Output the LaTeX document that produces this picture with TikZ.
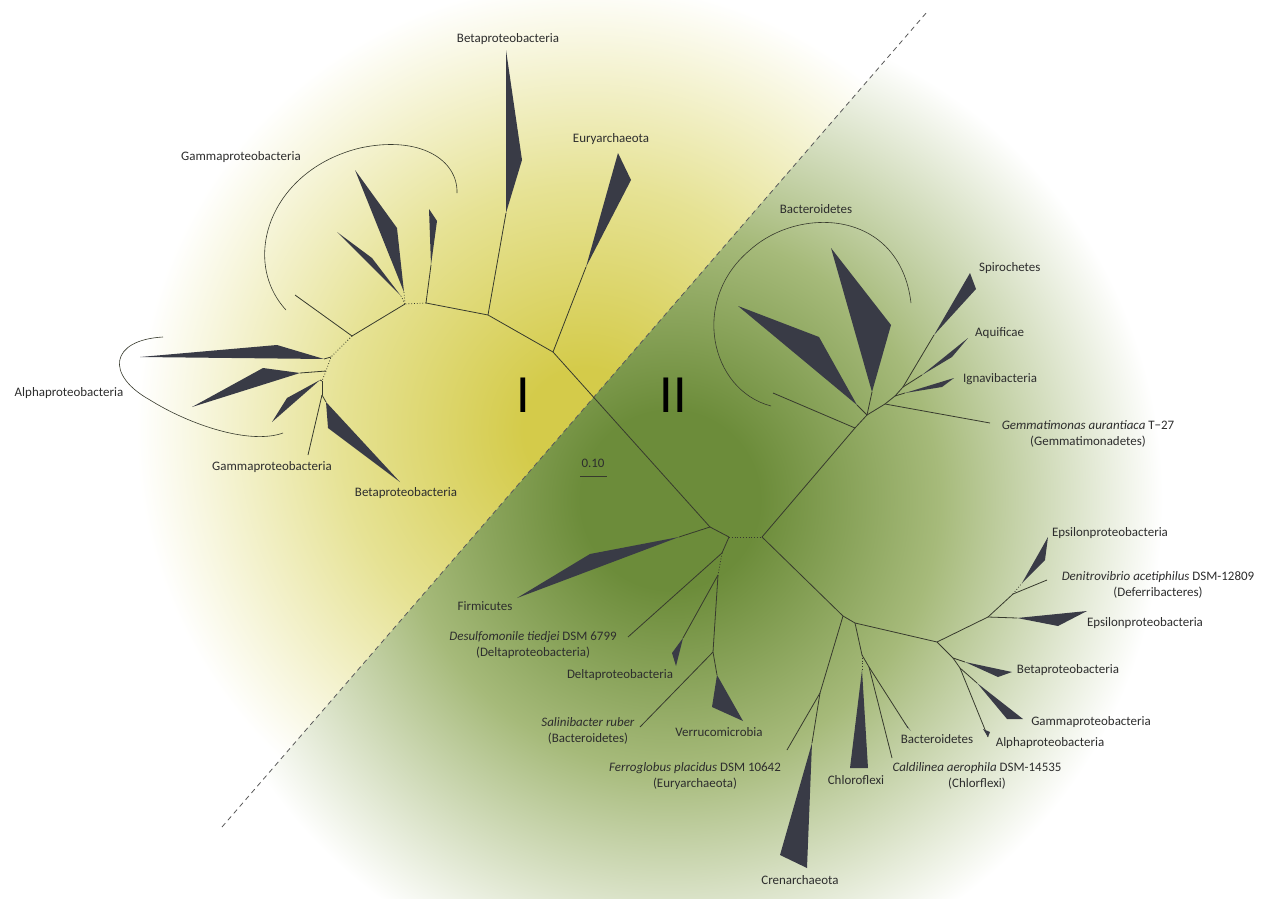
\documentclass[tikz,border=0pt]{standalone}
\usepackage{fontspec}
\setmainfont{Carlito}
\usetikzlibrary{positioning}

\definecolor{cladecol}{RGB}{57,59,70}
\definecolor{branchcol}{RGB}{55,58,45}
\definecolor{labelcol}{RGB}{45,45,45}
\definecolor{yelcore}{RGB}{212,203,74}
\definecolor{yelmid}{RGB}{230,226,148}
\definecolor{grcore}{RGB}{108,140,58}
\definecolor{grmid}{RGB}{166,186,122}

\pgfdeclareradialshading{yelfade}{\pgfpointorigin}{color(0bp)=(yelcore); color(3bp)=(yelcore); color(12bp)=(yelmid); color(22bp)=(white); color(50bp)=(white)}
\pgfdeclareradialshading{grfade}{\pgfpointorigin}{color(0bp)=(grcore); color(4bp)=(grcore); color(12bp)=(grmid); color(22bp)=(white); color(50bp)=(white)}

\begin{document}
\begin{tikzpicture}[x=1bp, y=-1bp,
    branch/.style={draw=branchcol, line width=0.8bp},
    weak/.style={branch, dotted},
    clade/.style={fill=cladecol},
    bracket/.style={draw=branchcol, line width=0.6bp},
    lab/.style={text=labelcol, font=\fontsize{13}{16}\selectfont, inner sep=0pt, align=center},
    roman/.style={text=black, font=\fontsize{54}{54}\selectfont, inner sep=0pt}]

  \useasboundingbox (0,0) rectangle (1268,899);
  \fill[white] (0,0) rectangle (1268,899);

  % Shaded halves on both sides of the divide
  \begin{scope}
    \clip (0,0) -- (937,0) -- (160,899) -- (0,899) -- cycle;
    \shade[shading=yelfade] (585,430) circle (510bp);
  \end{scope}
  \begin{scope}
    \clip (937,0) -- (1268,0) -- (1268,899) -- (160,899) -- cycle;
    \shade[shading=grfade] (670,500) circle (560bp);
  \end{scope}

  % Dashed divide
  \coordinate (dl1) at (222,827);
  \coordinate (dl2) at (927,12);
  \draw[dash pattern=on 5bp off 4bp, draw=black!65, line width=0.8bp] (dl1) -- (dl2);

  \node[roman] (grpI) at (523,395) {I};
  \node[roman] (grpII) at (673,395) {II};

  % Scale bar
  \coordinate (sb1) at (580,476);
  \coordinate (sb2) at (607,476);
  \draw[branch] (sb1) -- (sb2);
  \node[lab] (scale) at (593,463) {0.10};

  % Central inner nodes
  \coordinate (cL) at (729,537);
  \coordinate (cR) at (762,537);
  \coordinate (f1) at (710,527);
  \draw[weak] (cL) -- (cR);
  \draw[branch] (f1) -- (cL);

  % Group I backbone
  \coordinate (a1) at (553,352);
  \coordinate (a2) at (488,315);
  \coordinate (a3) at (426,303);
  \coordinate (a4) at (405,304);
  \coordinate (a5) at (352,336);
  \coordinate (sp1) at (331,357);
  \coordinate (sp2) at (326,371);
  \coordinate (sp3) at (322,381);
  \coordinate (sp4) at (322,395);
  \draw[branch] (f1) -- (a1) -- (a2) -- (a3);
  \draw[weak] (a3) -- (a4);
  \draw[branch] (a4) -- (a5);
  \draw[weak] (a5) -- (sp1) -- (sp2) -- (sp3);
  \draw[branch] (sp3) -- (sp4);

  % Euryarchaeota
  \coordinate (euA) at (586,267);
  \draw[branch] (a1) -- (euA);
  \fill[clade] (euA) -- (631,180) -- (618,153) -- cycle;
  \node[lab] (eury) at (611,139) {Euryarchaeota};

  % Betaproteobacteria (top)
  \coordinate (btA) at (506,213);
  \draw[branch] (a2) -- (btA);
  \fill[clade] (btA) -- (522,160) -- (506,50) -- cycle;
  \node[lab] (betaTop) at (508,39) {Betaproteobacteria};

  % Gammaproteobacteria cluster
  \coordinate (g1A) at (431,265);
  \coordinate (g2A) at (404,292);
  \coordinate (g3A) at (401,296);
  \draw[branch] (a3) -- (g1A);
  \fill[clade] (g1A) -- (437,221) -- (429,209) -- cycle;
  \draw[weak] (a4) -- (g2A);
  \fill[clade] (g2A) -- (397,228) -- (355,170) -- cycle;
  \draw[weak] (a4) -- (g3A);
  \fill[clade] (g3A) -- (372,258) -- (337,232) -- cycle;
  \coordinate (g4) at (295,295);
  \draw[branch] (a5) -- (g4);
  \draw[bracket] (286,310) .. controls (240,260) and (270,170) .. (360,148)
                 .. controls (420,135) and (458,160) .. (457,193);
  \node[lab] (gammaTop) at (241,157) {Gammaproteobacteria};

  % Alphaproteobacteria cluster
  \coordinate (al1A) at (324,359);
  \coordinate (al2A) at (300,373);
  \coordinate (al3A) at (320,380);
  \draw[branch] (sp1) -- (al1A);
  \fill[clade] (al1A) -- (277,345) -- (140,357) -- cycle;
  \draw[branch] (sp2) -- (al2A);
  \fill[clade] (al2A) -- (263,368) -- (192,407) -- cycle;
  \draw[branch] (sp3) -- (al3A);
  \fill[clade] (al3A) -- (287,398) -- (272,422) -- cycle;
  \draw[bracket] (163,337) .. controls (110,340) and (105,375) .. (150,400)
                 .. controls (190,425) and (250,445) .. (283,433);
  \node[lab] (alphaL) at (69,393) {Alphaproteobacteria};

  % Gamma line and Beta wedge (bottom of group I)
  \coordinate (gmE) at (308,455);
  \coordinate (bbA) at (326,402);
  \draw[branch] (sp4) -- (gmE);
  \draw[branch] (sp4) -- (bbA);
  \fill[clade] (bbA) -- (328,428) -- (400,482) -- cycle;
  \node[lab] (gammaBot) at (272,467) {Gammaproteobacteria};
  \node[lab] (betaBot) at (406,493) {Betaproteobacteria};

  % Firmicutes
  \coordinate (fiA) at (679,537);
  \draw[branch] (f1) -- (fiA);
  \fill[clade] (fiA) -- (590,554) -- (517,598) -- cycle;
  \node[lab] (firm) at (485,606) {Firmicutes};

  % Delta side
  \coordinate (d1) at (722,553);
  \coordinate (d2) at (718,575);
  \coordinate (d3) at (713,652);
  \coordinate (desE) at (628,637);
  \coordinate (dlA) at (683,638);
  \coordinate (salE) at (640,727);
  \coordinate (veA) at (717,675);
  \draw[branch] (cL) -- (d1);
  \draw[weak] (d1) -- (d2);
  \draw[branch] (d1) -- (desE);
  \draw[branch] (d2) -- (dlA);
  \fill[clade] (dlA) -- (672,653) -- (676,666) -- cycle;
  \draw[branch] (d2) -- (d3) -- (salE);
  \draw[branch] (d3) -- (veA);
  \fill[clade] (veA) -- (712,707) -- (743,721) -- cycle;
  \node[lab] (desulfo) at (533,645) {\textit{Desulfomonile tiedjei} DSM 6799\\(Deltaproteobacteria)};
  \node[lab] (delta) at (620,675) {Deltaproteobacteria};
  \node[lab] (salini) at (588,731) {\textit{Salinibacter ruber}\\(Bacteroidetes)};
  \node[lab] (verru) at (719,732) {Verrucomicrobia};

  % Bacteroidetes cluster (group II, top)
  \coordinate (b1) at (855,428);
  \coordinate (b2) at (867,415);
  \coordinate (b3) at (885,404);
  \coordinate (b4) at (895,396);
  \coordinate (b5) at (903,387);
  \coordinate (bxE) at (773,393);
  \coordinate (w1A) at (857,405);
  \coordinate (w2A) at (872,392);
  \draw[branch] (cR) -- (b1) -- (b2) -- (b3) -- (b4) -- (b5);
  \draw[branch] (b1) -- (bxE);
  \draw[branch] (b2) -- (w1A);
  \draw[branch] (b2) -- (w2A);
  \fill[clade] (w1A) -- (819,337) -- (738,306) -- cycle;
  \fill[clade] (w2A) -- (891,325) -- (831,248) -- cycle;
  \draw[bracket] (771,406) .. controls (710,390) and (690,300) .. (750,250)
                 .. controls (800,205) and (900,210) .. (911,303);
  \node[lab] (bactTop) at (816,209) {Bacteroidetes};

  \coordinate (gmmE) at (990,423);
  \coordinate (igA) at (905,393);
  \coordinate (aqA) at (922,375);
  \coordinate (spA) at (934,335);
  \draw[branch] (b3) -- (gmmE);
  \draw[branch] (b4) -- (igA);
  \fill[clade] (igA) -- (942,387) -- (954,378) -- cycle;
  \draw[branch] (b5) -- (aqA);
  \fill[clade] (aqA) -- (952,357) -- (968,338) -- cycle;
  \draw[branch] (b5) -- (spA);
  \fill[clade] (spA) -- (976,289) -- (970,273) -- cycle;
  \node[lab, anchor=west] (spiro) at (979,268) {Spirochetes};
  \node[lab, anchor=west] (aqui) at (975,333) {Aquificae};
  \node[lab, anchor=west] (igna) at (963,379) {Ignavibacteria};
  \node[lab] (gemma) at (1088,434) {\textit{Gemmatimonas aurantiaca} T−27\\(Gemmatimonadetes)};

  % Lower right part of group II
  \coordinate (r1) at (843,616);
  \coordinate (r2) at (820,693);
  \coordinate (r3) at (855,623);
  \coordinate (r4) at (862,655);
  \coordinate (r5) at (862,670);
  \coordinate (r6) at (869,667);
  \coordinate (r7) at (937,642);
  \coordinate (r8) at (988,617);
  \coordinate (r9) at (1013,594);
  \coordinate (r10) at (953,658);
  \coordinate (r11) at (960,668);
  \draw[branch] (cR) -- (r1) -- (r3) -- (r7);
  \draw[branch] (r1) -- (r2);

  \coordinate (feE) at (787,750);
  \coordinate (crA) at (812,743);
  \draw[branch] (r2) -- (feE);
  \draw[branch] (r2) -- (crA);
  \fill[clade] (crA) -- (780,855) -- (807,868) -- cycle;
  \node[lab] (ferro) at (695,776) {\textit{Ferroglobus placidus} DSM 10642\\(Euryarchaeota)};
  \node[lab] (cren) at (800,880) {Crenarchaeota};

  \coordinate (caE) at (892,758);
  \coordinate (bsE) at (908,728);
  \draw[branch] (r3) -- (r4);
  \draw[weak] (r4) -- (r5);
  \fill[clade] (r5) -- (850,768) -- (868,768) -- cycle;
  \draw[branch] (r4) -- (r6) -- (caE);
  \draw[branch] (r6) -- (bsE);
  \fill[clade] (bsE) -- (904,722) -- (911,731) -- cycle;
  \node[lab] (chloro) at (856,780) {Chloroflexi};
  \node[lab] (caldi) at (977,776) {\textit{Caldilinea aerophila} DSM-14535\\(Chlorflexi)};
  \node[lab] (bactBot) at (937,739) {Bacteroidetes};

  \coordinate (e2A) at (1017,618);
  \coordinate (deE) at (1047,580);
  \coordinate (e1A) at (1022,583);
  \draw[branch] (r7) -- (r8) -- (e2A);
  \fill[clade] (e2A) -- (1058,626) -- (1087,611) -- cycle;
  \draw[branch] (r8) -- (r9) -- (deE);
  \draw[weak] (r9) -- (e1A);
  \fill[clade] (e1A) -- (1045,560) -- (1048,537) -- cycle;
  \node[lab] (eps1) at (1110,533) {Epsilonproteobacteria};
  \node[lab] (deni) at (1158,585) {\textit{Denitrovibrio acetiphilus} DSM-12809\\(Deferribacteres)};
  \node[lab] (eps2) at (1145,623) {Epsilonproteobacteria};

  \coordinate (bpA) at (965,662);
  \coordinate (gpA) at (977,683);
  \coordinate (apE) at (988,737);
  \draw[branch] (r7) -- (r10) -- (bpA);
  \fill[clade] (bpA) -- (998,677) -- (1012,672) -- cycle;
  \draw[branch] (r10) -- (r11) -- (gpA);
  \fill[clade] (gpA) -- (1007,719) -- (1023,719) -- cycle;
  \draw[branch] (r11) -- (apE);
  \fill[clade] (apE) -- (983,729) -- (990,732) -- cycle;
  \node[lab] (betaR) at (1068,670) {Betaproteobacteria};
  \node[lab] (gammaR) at (1091,722) {Gammaproteobacteria};
  \node[lab] (alphaR) at (1050,743) {Alphaproteobacteria};
\end{tikzpicture}
\end{document}
